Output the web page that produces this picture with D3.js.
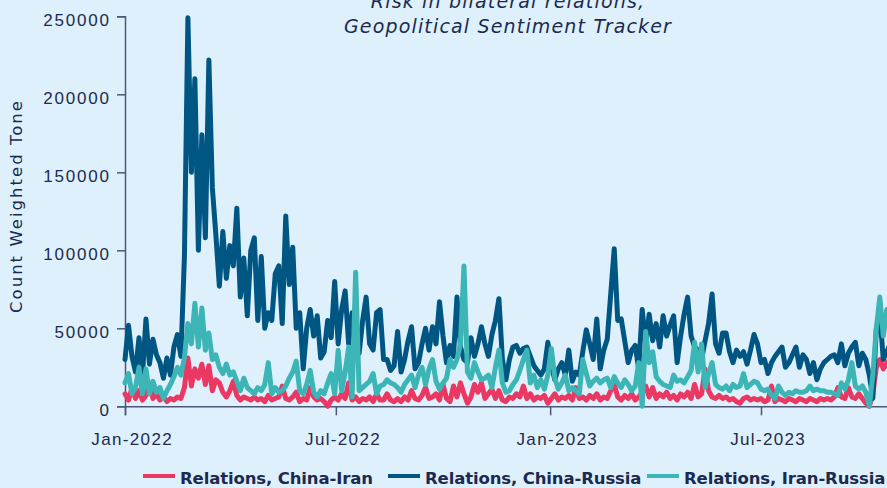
<!DOCTYPE html>
<html>
<head>
<meta charset="utf-8">
<script src="https://cdn.jsdelivr.net/npm/d3@7"></script>
<style>
  html, body { margin: 0; padding: 0; background: #dff0fd; overflow: hidden; }
  svg { display: block; font-family: "DejaVu Sans", sans-serif; }
</style>
</head>
<body>
<svg id="chart" width="887" height="488"></svg>
<script>
// one reading every 3 days from 1 Jan 2022, values in thousands (count weighted tone)
const startDate = new Date(2022, 0, 1);
const stepDays = 3;

const chinaIran = [
  8, 4, 12, 5, 10, 4, 7, 15, 5, 8, 4, 6, 3, 5, 4, 6, 5, 12, 31, 13,
  24, 18, 27, 14, 26, 10, 17, 15, 9, 6, 10, 16, 7, 4, 6, 5, 4, 6, 4, 5,
  3, 7, 4, 5, 6, 13, 5, 4, 6, 9, 3, 5, 4, 12, 6, 4, 5, 3, 0, 4,
  6, 4, 8, 5, 15, 4, 6, 3, 5, 4, 6, 3, 8, 4, 4, 8, 4, 3, 5, 3,
  6, 4, 10, 5, 4, 7, 12, 5, 6, 8, 4, 14, 5, 3, 13, 6, 15, 8, 2, 6,
  14, 9, 15, 5, 8, 11, 5, 10, 4, 3, 6, 5, 8, 6, 13, 5, 8, 4, 6, 5,
  7, 2, 5, 8, 4, 6, 5, 7, 4, 12, 5, 6, 4, 7, 5, 8, 4, 6, 5, 10,
  14, 6, 4, 7, 5, 8, 4, 6, 9, 13, 6, 12, 5, 8, 6, 9, 5, 7, 4, 8,
  6, 9, 5, 14, 6, 8, 24, 10, 6, 5, 7, 5, 6, 4, 5, 3, 2, 5, 6, 4,
  5, 4, 5, 3, 4, 13, 3, 5, 4, 3, 5, 4, 3, 5, 4, 3, 5, 4, 3, 5,
  4, 5, 4, 6, 12, 6, 5, 12, 6, 5, 8, 5, 2, 0, 8, 25, 30, 24, 28, 30
];

const chinaRussia = [
  30, 52, 32, 22, 44, 20, 56, 27, 43, 33, 28, 18, 31, 20, 38, 46, 32, 96, 249, 150,
  210, 100, 174, 108, 222, 140, 110, 77, 112, 82, 103, 90, 127, 70, 95, 58, 100, 108, 55, 96,
  50, 60, 55, 85, 90, 53, 122, 78, 102, 50, 60, 24, 50, 62, 45, 58, 31, 35, 55, 44,
  80, 40, 62, 74, 40, 60, 44, 34, 55, 70, 40, 36, 60, 62, 30, 30, 23, 26, 48, 22,
  30, 42, 51, 24, 28, 40, 50, 36, 51, 40, 67, 45, 28, 39, 32, 70, 38, 30, 28, 44,
  32, 40, 51, 40, 32, 46, 55, 69, 30, 17, 30, 38, 39, 34, 37, 38, 32, 26, 23, 20,
  24, 41, 26, 17, 24, 28, 20, 36, 16, 22, 20, 35, 49, 40, 30, 56, 24, 36, 43, 72,
  101, 55, 56, 42, 28, 36, 39, 24, 62, 40, 59, 42, 53, 38, 58, 45, 52, 58, 28, 45,
  59, 70, 45, 38, 36, 30, 42, 53, 72, 40, 34, 47, 47, 35, 28, 36, 32, 35, 27, 36,
  46, 40, 28, 30, 21, 28, 32, 35, 38, 25, 28, 33, 38, 25, 33, 30, 21, 28, 17, 24,
  28, 30, 32, 33, 28, 40, 26, 34, 38, 41, 26, 34, 30, 20, 5, 50, 59, 30, 35, 40
];

const iranRussia = [
  15, 21, 8, 12, 25, 8, 24, 8, 16, 9, 12, 5, 10, 14, 19, 25, 20, 31, 53, 40,
  66, 38, 63, 36, 47, 30, 33, 25, 21, 27, 20, 22, 16, 10, 18, 12, 10, 8, 12, 10,
  14, 28, 8, 12, 9, 10, 13, 18, 22, 29, 10, 8, 14, 23, 9, 6, 10, 8, 15, 21,
  8, 36, 10, 22, 38, 6, 86, 10, 12, 14, 16, 21, 8, 13, 14, 17, 15, 14, 12, 9,
  14, 17, 20, 12, 20, 25, 14, 24, 30, 16, 11, 15, 18, 30, 25, 30, 40, 90, 22, 18,
  28, 22, 17, 18, 20, 12, 25, 36, 15, 9, 10, 14, 17, 23, 30, 36, 15, 20, 12, 17,
  11, 20, 37, 18, 11, 15, 20, 10, 12, 10, 8, 30, 21, 13, 16, 18, 15, 17, 18, 12,
  19, 15, 12, 17, 14, 10, 13, 28, 0, 48, 28, 35, 19, 16, 14, 13, 12, 20, 16, 17,
  15, 19, 23, 41, 22, 40, 12, 21, 28, 14, 12, 11, 13, 10, 14, 12, 13, 21, 12, 14,
  16, 15, 11, 10, 11, 7, 5, 13, 9, 7, 9, 8, 10, 9, 9, 10, 13, 10, 11, 10,
  10, 9, 9, 8, 7, 15, 11, 17, 28, 13, 11, 13, 9, 0, 20, 50, 70, 45, 62, 55
];

const seriesNames = ['Relations, China-Iran', 'Relations, China-Russia', 'Relations, Iran-Russia'];
const seriesColors = ['#ea3862', '#005683', '#3bb5b6'];
const yTicks = [0, 50000, 100000, 150000, 200000, 250000];
const xTicks = [new Date(2022, 0, 1), new Date(2022, 6, 1), new Date(2023, 0, 1), new Date(2023, 6, 1)];
const titleLines = ['Risk in bilateral relations,', 'Geopolitical Sentiment Tracker'];
const yTitle = 'Count Weighted Tone';

const svg = d3.select('#chart');
const width = +svg.attr('width');
const textColor = '#1b2a4e';
const axisColor = '#4c5777';

// stretch a text's letter spacing so that a sample string gets the width seen in the reference
function spaceTo(sel, sample, target) {
  const probe = svg.append('text')
    .attr('font-size', sel.attr('font-size'))
    .attr('font-weight', sel.attr('font-weight'))
    .attr('font-style', sel.attr('font-style'))
    .text(sample);
  const natural = probe.node().getComputedTextLength();
  probe.remove();
  const ls = (target - natural) / (sample.length - 1);
  sel.style('letter-spacing', ls + 'px');
  return ls;
}

const x = d3.scaleTime()
  .domain([new Date(2022, 0, 1), new Date(2023, 6, 1)])
  .range([125, 761]);

const y = d3.scaleLinear()
  .domain([0, 250000])
  .range([406.3, 16.3]);

const dateAt = i => d3.timeDay.offset(startDate, i * stepDays);
const allSeries = [chinaIran, chinaRussia, iranRussia].map((vals, k) => ({
  name: seriesNames[k],
  color: seriesColors[k],
  points: vals.map((v, i) => ({ date: dateAt(i), value: v * 1000 }))
}));

// axes
const xAxisScale = x.copy().domain([x.domain()[0], x.invert(width + 5)]).range([125, width + 5]);
const xAxis = svg.append('g')
  .attr('transform', 'translate(0,' + y(0) + ')')
  .call(d3.axisBottom(xAxisScale)
    .tickValues(xTicks)
    .tickSizeOuter(0)
    .tickSize(9)
    .tickFormat(d3.timeFormat('%b-%Y')));

xAxis.select('.domain').attr('stroke', axisColor).attr('stroke-width', 1.5);
xAxis.selectAll('.tick line').attr('stroke', axisColor).attr('stroke-width', 1.5);
const xLabels = xAxis.selectAll('.tick text')
  .attr('fill', textColor)
  .attr('font-size', 17)
  .attr('y', 38.7)
  .attr('dx', 6)
  .attr('dy', 0);
const xLs = spaceTo(xLabels, 'Jan-2022', 85);
xLabels.attr('dx', 6 + xLs / 2);

const yAxis = svg.append('g')
  .attr('transform', 'translate(125,0)')
  .call(d3.axisLeft(y)
    .tickValues(yTicks)
    .tickSizeOuter(0)
    .tickSize(8)
    .tickPadding(8)
    .tickFormat(d3.format('d')));

yAxis.select('.domain').attr('stroke', axisColor).attr('stroke-width', 1.5);
yAxis.selectAll('.tick line').attr('stroke', axisColor).attr('stroke-width', 1.5);
const yLabels = yAxis.selectAll('.tick text')
  .attr('fill', textColor)
  .attr('font-size', 17)
  .attr('dy', '0.55em');
const yLs = spaceTo(yLabels, '250000', 74);
yLabels.attr('dx', yLs);

const yTitleText = svg.append('text')
  .attr('transform', 'translate(22,206) rotate(-90)')
  .attr('text-anchor', 'middle')
  .attr('fill', textColor)
  .attr('font-size', 16.5)
  .text(yTitle);
spaceTo(yTitleText, yTitle, 212);

// lines
const line = d3.line()
  .x(d => x(d.date))
  .y(d => y(d.value));

svg.append('g')
  .selectAll('path.series')
  .data(allSeries)
  .enter()
  .append('path')
    .classed('series', true)
    .attr('fill', 'none')
    .attr('stroke', d => d.color)
    .attr('stroke-width', 5)
    .attr('stroke-linejoin', 'round')
    .attr('stroke-linecap', 'round')
    .attr('d', d => line(d.points));

// title
const titles = svg.append('g')
  .selectAll('text')
  .data(titleLines)
  .enter()
  .append('text')
    .attr('x', 508)
    .attr('y', (d, i) => 8 + i * 25)
    .attr('text-anchor', 'middle')
    .attr('font-style', 'italic')
    .attr('font-size', 19)
    .attr('fill', textColor)
    .text(d => d);
spaceTo(titles, titleLines[1], 327);

// legend
const legendStarts = [143, 388, 647];
const legend = svg.append('g')
  .selectAll('g.legend')
  .data(allSeries)
  .enter()
  .append('g')
    .classed('legend', true)
    .attr('transform', (d, i) => 'translate(' + legendStarts[i] + ',476)');

legend.append('line')
  .attr('x1', 0)
  .attr('x2', 32)
  .attr('stroke', d => d.color)
  .attr('stroke-width', 4);

const legendText = legend.append('text')
  .attr('x', 37)
  .attr('y', 7.5)
  .attr('font-weight', 'bold')
  .attr('font-size', 16.5)
  .attr('fill', textColor)
  .text(d => d.name);
spaceTo(legendText, seriesNames[0], 193);
</script>
</body>
</html>
